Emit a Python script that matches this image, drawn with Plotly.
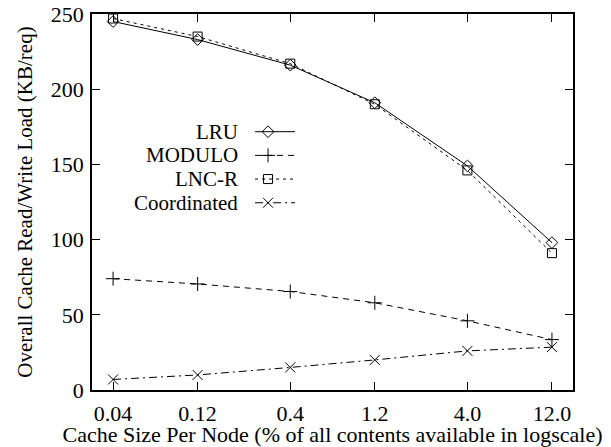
import plotly.graph_objects as go

cache_sizes = [0.04, 0.12, 0.4, 1.2, 4.0, 12.0]
tick_labels = ["0.04", "0.12", "0.4", "1.2", "4.0", "12.0"]
lru = [245, 233, 216, 191, 149, 98]
modulo = [74, 70.5, 65.5, 58, 46, 33.5]
lncr = [247, 235, 217, 190, 146, 91]
coordinated = [7, 10, 15, 20, 26, 28.5]

series_names = ["LRU", "MODULO", "LNC-R", "Coordinated"]
series_values = [lru, modulo, lncr, coordinated]
symbols = ["diamond-open", "cross-thin-open", "square-open", "x-thin-open"]
dashes = ["solid", "6px,5px", "3px,4px", "8px,4px,2px,4px"]
sizes = [9, 10, 9, 10]

FONT = "Liberation Serif"
fig = go.Figure()

for name, vals, sym, dash, sz in zip(series_names, series_values, symbols, dashes, sizes):
    fig.add_trace(go.Scatter(
        x=cache_sizes, y=vals, mode="lines+markers", name=name, showlegend=False,
        line=dict(color="black", width=1, dash=dash),
        marker=dict(symbol=sym, size=sz, color="black", line=dict(color="black", width=1)),
    ))

# custom legend (text right-aligned, sample on the right)
leg_x_text = 0.308
leg_line = [0.339, 0.422]
leg_mark = 0.366
leg_rows = [0.687, 0.624, 0.561, 0.498]
for name, sym, dash, sz, ry in zip(series_names, symbols, dashes, sizes, leg_rows):
    fig.add_trace(go.Scatter(
        x=leg_line, y=[ry, ry], mode="lines", xaxis="x2", yaxis="y2", showlegend=False,
        line=dict(color="black", width=1, dash=dash), hoverinfo="skip",
    ))
    fig.add_trace(go.Scatter(
        x=[leg_mark], y=[ry], mode="markers", xaxis="x2", yaxis="y2", showlegend=False,
        marker=dict(symbol=sym, size=sz, color="black", line=dict(color="black", width=1)),
        hoverinfo="skip",
    ))
    fig.add_annotation(x=leg_x_text, y=ry, xref="paper", yref="paper", text=name,
                       showarrow=False, xanchor="right", yanchor="middle",
                       font=dict(family=FONT, size=21, color="black"))

fig.update_layout(
    width=611, height=447,
    margin=dict(l=92, r=38, t=14, b=57, autoexpand=False),
    paper_bgcolor="white", plot_bgcolor="white",
    font=dict(family=FONT, size=22, color="black"),
    xaxis=dict(
        type="log", range=[-1.517, 1.198], automargin=False,
        tickvals=cache_sizes, ticktext=tick_labels,
        ticks="inside", ticklen=8, tickwidth=1, tickcolor="black",
        showline=True, linewidth=1.5, linecolor="black", mirror="allticks",
        showgrid=False, zeroline=False,
        title=dict(text="Cache Size Per Node (% of all contents available in logscale)",
                   standoff=0, font=dict(family=FONT, size=22, color="black")),
        tickfont=dict(family=FONT, size=22, color="black"),
        ticklabelstandoff=3,
    ),
    yaxis=dict(
        range=[0, 250], tickvals=[0, 50, 100, 150, 200, 250], automargin=False,
        ticks="inside", ticklen=8, tickwidth=1, tickcolor="black",
        showline=True, linewidth=1.5, linecolor="black", mirror="allticks",
        showgrid=False, zeroline=False,
        title=dict(text="Overall Cache Read/Write Load (KB/req)", standoff=12,
                   font=dict(family=FONT, size=21, color="black")),
        tickfont=dict(family=FONT, size=22, color="black"),
        ticklabelstandoff=2,
    ),
    xaxis2=dict(overlaying="x", range=[0, 1], visible=False, fixedrange=True),
    yaxis2=dict(overlaying="y", range=[0, 1], visible=False, fixedrange=True),
)

fig.write_html("out.html")
